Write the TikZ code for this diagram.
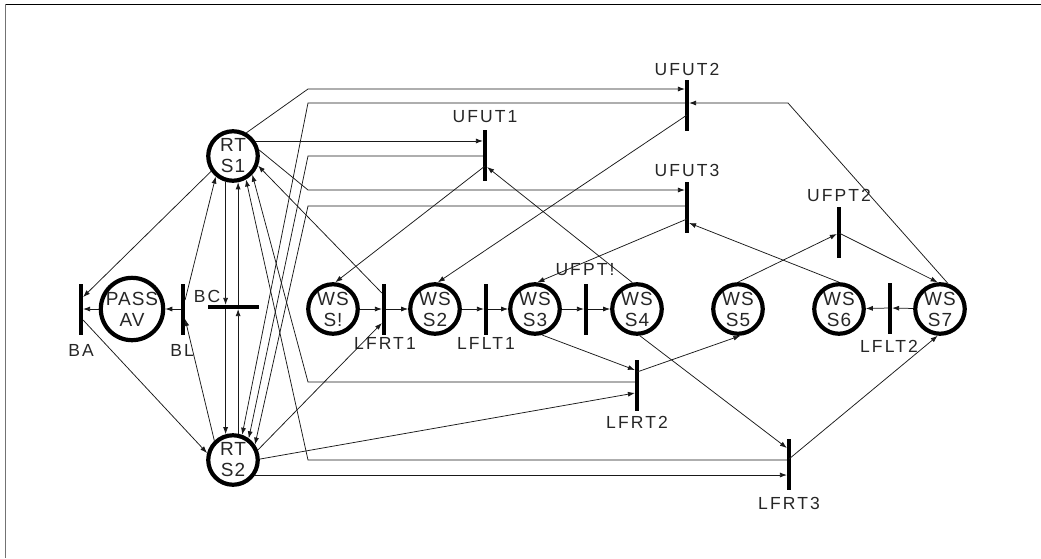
\documentclass[tikz,border=0pt]{standalone}
\usepackage{fontspec}
\setmainfont{Liberation Sans}
\newfontfamily\lblfont[LetterSpace=12]{Liberation Sans}
\newfontfamily\plcfont[LetterSpace=5]{Liberation Sans}
\usetikzlibrary{arrows.meta,calc}
\begin{document}
\begin{tikzpicture}[x=1pt,y=-1pt,
  place/.style={circle,draw=black,line width=4.2pt,minimum size=49.5pt,inner sep=0pt,align=center,
    font={\plcfont\fontsize{19}{21}\selectfont},text=black!85},
  vbar/.style={fill=black,draw=none,minimum width=3.8pt,minimum height=51pt,inner sep=0pt},
  hbar/.style={fill=black,draw=none,minimum width=51pt,minimum height=3.8pt,inner sep=0pt},
  lbl/.style={font={\lblfont\fontsize{17.5}{20}\selectfont},inner sep=0pt,text=black!85},
  arr/.style={-{Latex[length=7pt,width=5pt]},line width=0.75pt,draw=black!90}]
\useasboundingbox (0,0) rectangle (1041,558);
\draw[line width=1pt] (6,4) -- (1041,4);
\draw[line width=1.2pt,black!55] (5.5,4) -- (5.5,558);

% places
\node[place] (RTS1) at (233,156) {RT\\S1};
\node[place] (RTS2) at (233,460) {RT\\S2};
\node[place] (PASSAV) at (132,309) {PASS\\AV};
\node[place] (WSS1) at (333,309) {WS\\S!};
\node[place] (WSS2) at (435,309) {WS\\S2};
\node[place] (WSS3) at (535,309) {WS\\S3};
\node[place] (WSS4) at (637,309) {WS\\S4};
\node[place] (WSS5) at (738,309) {WS\\S5};
\node[place] (WSS6) at (839,309) {WS\\S6};
\node[place] (WSS7) at (940,309) {WS\\S7};

% transitions
\node[vbar] (BA) at (81,309) {};
\node[vbar] (BL) at (183,309) {};
\node[hbar] (BC) at (233,307) {};
\node[vbar] (LFRT1) at (384,309) {};
\node[vbar] (LFLT1) at (486,309) {};
\node[vbar] (UFPTa) at (586,309) {};
\node[vbar] (LFRT2) at (637,385) {};
\node[vbar] (LFRT3) at (789,464) {};
\node[vbar] (LFLT2) at (890,308) {};
\node[vbar] (UFPT2) at (839,232) {};
\node[vbar] (UFUT1) at (485,155) {};
\node[vbar] (UFUT2) at (687,105) {};
\node[vbar] (UFUT3) at (687,207) {};

% labels
\node[lbl] (lBA) at (81,350) {BA};
\node[lbl] (lBL) at (182,350) {BL};
\node[lbl] (lBC) at (207,296) {BC};
\node[lbl] (lLFRT1) at (385,343) {LFRT1};
\node[lbl] (lLFLT1) at (486,343) {LFLT1};
\node[lbl] (lUFPTa) at (585,270) {UFPT!};
\node[lbl] (lLFRT2) at (637,422) {LFRT2};
\node[lbl] (lLFRT3) at (789,503) {LFRT3};
\node[lbl] (lLFLT2) at (889,346) {LFLT2};
\node[lbl] (lUFPT2) at (839,195) {UFPT2};
\node[lbl] (lUFUT1) at (485,117) {UFUT1};
\node[lbl] (lUFUT2) at (687,69) {UFUT2};
\node[lbl] (lUFUT3) at (687,170) {UFUT3};

% left part
\draw[arr] (RTS1.215) -- ($(BA.east)+(0,-12)$);
\draw[arr] ($(BA.east)+(0,11)$) -- (RTS2.165);
\draw[arr] (PASSAV) -- (BA);
\draw[arr] (BL) -- (PASSAV);
\draw[arr] ($(BL.east)+(0,-9)$) -- (RTS1.230);
\draw[arr] (RTS2.134) -- ($(BL.east)+(0,10)$);
\draw[arr] (RTS1.254) -- (RTS1.254 |- BC.north);
\draw[arr] (BC.north -| RTS1.281) -- (RTS1.281);
\draw[arr] (BC.south -| RTS2.106) -- (RTS2.106);
\draw[arr] (RTS2.79) -- (RTS2.79 |- BC.south);

% robot to upper transitions
\draw[arr] (RTS1.60) -- (308,89) -- ($(UFUT2.west)+(0,-16)$);
\draw[arr] ($(UFUT2.west)+(0,-2)$) -- (308,103) -- (RTS2.70);
\draw[arr] (RTS1.34) -- (RTS1.34 -| UFUT1.west);
\draw[arr] ($(UFUT1.west)+(0,1)$) -- (308,156) -- (RTS2.54);
\draw[arr] (RTS1.13) -- (308,190) -- ($(UFUT3.west)+(0,-17)$);
\draw[arr] ($(UFUT3.west)+(0,-1)$) -- (308,206) -- (RTS2.35);
\draw[arr] ($(LFRT1.west)+(0,-16)$) -- (RTS1.-21);
\draw[arr] ($(LFRT2.west)+(0,-3)$) -- (308,382) -- (RTS1.-44);
\draw[arr] ($(LFRT3.west)+(0,-4)$) -- (308,460) -- (RTS1.-61);
\draw[arr] (RTS2.22) -- ($(LFRT1.west)+(0,14)$);
\draw[arr] (RTS2.2) -- ($(LFRT2.west)+(0,8)$);
\draw[arr] (RTS2.-34) -- (RTS2.-34 -| LFRT3.west);

% work stations
\draw[arr] ($(UFUT1)+(0,11)$) -- (WSS1.85);
\draw[arr] (WSS1) -- (LFRT1);
\draw[arr] (LFRT1) -- (WSS2);
\draw[arr] ($(UFUT2)+(0,10)$) -- (WSS2.84);
\draw[arr] (WSS2) -- (LFLT1);
\draw[arr] (LFLT1) -- (WSS3);
\draw[arr] ($(UFUT3)+(0,12)$) -- (WSS3.85);
\draw[arr] (WSS3) -- (UFPTa);
\draw[arr] (UFPTa) -- (WSS4);
\draw[arr] (WSS4.100) -- ($(UFUT1.east)+(0,12)$);
\draw[arr] (WSS5.90) -- ($(UFPT2.west)+(0,2)$);
\draw[arr] ($(UFPT2)+(0,1)$) -- (WSS7.95);
\draw[arr] (WSS6.90) -- ($(UFUT3.east)+(0,16)$);
\draw[arr] (WSS7.73) -- (788,103) -- ($(UFUT2.east)+(0,-2)$);
\draw[arr] (WSS7) -- (LFLT2);
\draw[arr] (LFLT2) -- (WSS6);
\draw[arr] (WSS3.-75) -- ($(LFRT2.west)+(0,-15)$);
\draw[arr] ($(LFRT2)+(0,-13)$) -- (WSS5.-85);
\draw[arr] (WSS4.-84) -- ($(LFRT3.west)+(0,-16)$);
\draw[arr] ($(LFRT3)+(0,-5)$) -- (WSS7.-95);
\end{tikzpicture}
\end{document}
